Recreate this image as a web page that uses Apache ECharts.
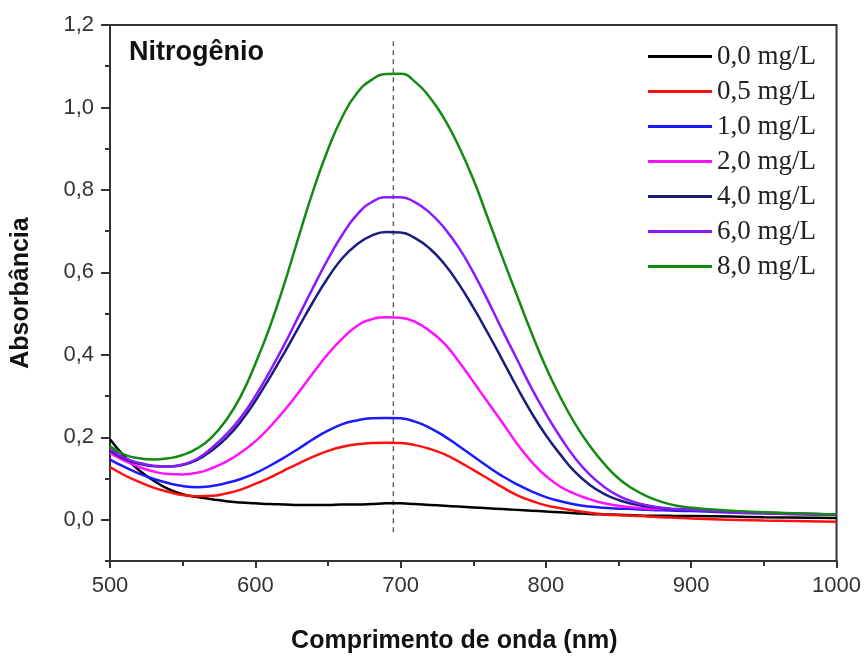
<!DOCTYPE html>
<html>
<head>
<meta charset="utf-8">
<script src="https://cdn.jsdelivr.net/npm/echarts@6/dist/echarts.min.js"></script>
<style>
  html, body { margin: 0; padding: 0; background: #fff; }
  #chart { width: 864px; height: 663px; }
</style>
</head>
<body>
<div id="chart"></div>
<script>
// wavelengths (nm)
var wavelengths = [500, 510, 520, 530, 540, 550, 560, 570, 580, 590,
  600, 610, 620, 630, 640, 650, 660, 670, 680, 690,
  700, 710, 720, 730, 740, 750, 760, 770, 780, 790,
  800, 810, 820, 830, 840, 850, 860, 870, 880, 890,
  900, 950, 1000]

var abs00 = [0.195, 0.153, 0.120, 0.095, 0.075, 0.062, 0.055, 0.050, 0.045, 0.042,
  0.040, 0.038, 0.037, 0.036, 0.036, 0.036, 0.037, 0.037, 0.038, 0.040,
  0.040, 0.038, 0.036, 0.034, 0.032, 0.030, 0.028, 0.026, 0.024, 0.022,
  0.020, 0.018, 0.016, 0.014, 0.013, 0.012, 0.011, 0.010, 0.010, 0.009,
  0.009, 0.006, 0.004]
var abs05 = [0.128, 0.108, 0.092, 0.078, 0.068, 0.060, 0.057, 0.058, 0.064, 0.073,
  0.087, 0.102, 0.120, 0.137, 0.153, 0.167, 0.177, 0.183, 0.186, 0.187,
  0.186, 0.181, 0.172, 0.159, 0.141, 0.121, 0.100, 0.079, 0.060, 0.046,
  0.035, 0.028, 0.022, 0.017, 0.013, 0.011, 0.010, 0.008, 0.006, 0.005,
  0.003, -0.002, -0.005]
var abs10 = [0.146, 0.128, 0.112, 0.099, 0.089, 0.082, 0.079, 0.082, 0.089, 0.099,
  0.113, 0.131, 0.151, 0.173, 0.196, 0.216, 0.232, 0.241, 0.246, 0.247,
  0.246, 0.238, 0.223, 0.203, 0.179, 0.154, 0.129, 0.106, 0.086, 0.069,
  0.055, 0.045, 0.037, 0.032, 0.029, 0.027, 0.026, 0.024, 0.023, 0.022,
  0.021, 0.015, 0.012]
var abs20 = [0.162, 0.143, 0.128, 0.117, 0.111, 0.110, 0.114, 0.125, 0.141, 0.163,
  0.190, 0.225, 0.265, 0.310, 0.357, 0.402, 0.440, 0.470, 0.486, 0.491,
  0.490, 0.480, 0.458, 0.428, 0.384, 0.335, 0.285, 0.236, 0.185, 0.141,
  0.106, 0.080, 0.063, 0.050, 0.040, 0.034, 0.030, 0.027, 0.026, 0.025,
  0.024, 0.016, 0.012]
var abs40 = [0.168, 0.148, 0.136, 0.130, 0.129, 0.133, 0.145, 0.168, 0.198, 0.238,
  0.288, 0.345, 0.405, 0.468, 0.530, 0.587, 0.635, 0.668, 0.689, 0.698,
  0.697, 0.683, 0.658, 0.621, 0.572, 0.515, 0.453, 0.388, 0.322, 0.260,
  0.205, 0.158, 0.116, 0.085, 0.063, 0.048, 0.038, 0.032, 0.028, 0.025,
  0.024, 0.017, 0.013]
var abs60 = [0.172, 0.150, 0.138, 0.131, 0.129, 0.134, 0.148, 0.174, 0.207, 0.248,
  0.300, 0.360, 0.425, 0.495, 0.565, 0.632, 0.692, 0.740, 0.770, 0.782,
  0.782, 0.770, 0.745, 0.708, 0.660, 0.600, 0.532, 0.460, 0.390, 0.320,
  0.257, 0.200, 0.150, 0.110, 0.080, 0.058, 0.044, 0.035, 0.029, 0.026,
  0.024, 0.017, 0.013]
var abs80 = [0.178, 0.158, 0.149, 0.146, 0.149, 0.157, 0.173, 0.200, 0.242, 0.300,
  0.378, 0.468, 0.573, 0.688, 0.800, 0.898, 0.978, 1.035, 1.067, 1.081,
  1.082, 1.062, 1.025, 0.973, 0.906, 0.826, 0.732, 0.637, 0.545, 0.454,
  0.370, 0.297, 0.233, 0.180, 0.136, 0.100, 0.075, 0.056, 0.043, 0.034,
  0.029, 0.018, 0.013]

var seriesNames = ['0,0 mg/L', '0,5 mg/L', '1,0 mg/L', '2,0 mg/L', '4,0 mg/L', '6,0 mg/L', '8,0 mg/L']
var seriesColors = ['#000000', '#ff1010', '#1a1aff', '#ff10ff', '#1c1c80', '#8a1aff', '#138a13']
var seriesValues = [abs00, abs05, abs10, abs20, abs40, abs60, abs80]

var peakLine = [[695, -0.03], [695, 1.165]]
var yMajorTicks = [0, 0.2, 0.4, 0.6, 0.8, 1.0, 1.2]
var yMinorTicks = [-0.1, 0.1, 0.3, 0.5, 0.7, 0.9, 1.1]

var chart = echarts.init(document.getElementById('chart'))

var series = [{
  type: 'line',
  name: 'pico',
  data: peakLine,
  symbol: 'none',
  silent: true,
  lineStyle: { color: '#666', width: 1.5, type: [5, 4] },
  z: 1
}]
seriesNames.forEach(function (name, i) {
  series.push({
    type: 'line',
    name: name,
    data: wavelengths.map(function (w, j) { return [w, seriesValues[i][j]] }),
    smooth: 0.5,
    symbol: 'none',
    showSymbol: false,
    lineStyle: { color: seriesColors[i], width: 2.5 },
    itemStyle: { color: seriesColors[i] },
    z: 2 + i
  })
})

var fmt = function (v) { return v.toFixed(1).replace('.', ',') }

var option = {
  animation: false,
  backgroundColor: '#fff',
  title: {
    text: 'Nitrogênio',
    left: 124,
    top: 34,
    textStyle: { fontFamily: 'Liberation Sans', fontWeight: 'bold', fontSize: 27, color: '#111' }
  },
  legend: {
    data: seriesNames,
    orient: 'vertical',
    left: 643,
    top: 38,
    icon: 'rect',
    itemWidth: 64,
    itemHeight: 3,
    itemGap: 8,
    textStyle: { fontFamily: 'Liberation Serif', fontSize: 27, lineHeight: 27, color: '#222' }
  },
  grid: {
    left: 110, right: 26, top: 25, bottom: 102,
    show: true, borderColor: '#333', borderWidth: 2, backgroundColor: 'transparent'
  },
  xAxis: {
    type: 'value',
    min: 500, max: 1000, interval: 100,
    name: 'Comprimento de onda (nm)',
    nameLocation: 'middle',
    nameGap: 68,
    nameTextStyle: { fontFamily: 'Liberation Sans', fontWeight: 'bold', fontSize: 25, color: '#111', padding: [0, 38, 0, 0] },
    axisLine: { onZero: false, lineStyle: { color: '#333', width: 2 } },
    axisTick: { length: 7, lineStyle: { color: '#333', width: 2 } },
    minorTick: { show: true, splitNumber: 2, length: 5, lineStyle: { color: '#333', width: 2 } },
    splitLine: { show: false },
    axisLabel: {
      fontFamily: 'Liberation Sans', fontSize: 22, color: '#333', margin: 14,
      formatter: function (v) { return String(v) }
    }
  },
  yAxis: [{
    type: 'value',
    min: -0.1, max: 1.2, interval: 0.1,
    name: 'Absorbância',
    nameLocation: 'middle',
    nameGap: 76,
    nameTextStyle: { fontFamily: 'Liberation Sans', fontWeight: 'bold', fontSize: 25, color: '#111' },
    axisLine: { show: true, lineStyle: { color: '#333', width: 2 } },
    axisTick: { customValues: yMajorTicks, length: 9, lineStyle: { color: '#333', width: 2 } },
    splitLine: { show: false },
    axisLabel: {
      customValues: yMajorTicks,
      fontFamily: 'Liberation Sans', fontSize: 22, color: '#333', margin: 16,
      formatter: function (v) {
        var t = Math.round(v * 10)
        return (t % 2 === 0 && t >= 0) ? fmt(v) : ''
      }
    }
  }, {
    type: 'value',
    min: -0.1, max: 1.2, interval: 0.1,
    position: 'left',
    axisLine: { show: false },
    axisTick: { customValues: yMinorTicks, length: 5, lineStyle: { color: '#333', width: 2 } },
    axisLabel: { show: false },
    splitLine: { show: false }
  }],
  series: series
}

chart.setOption(option)
</script>
</body>
</html>
